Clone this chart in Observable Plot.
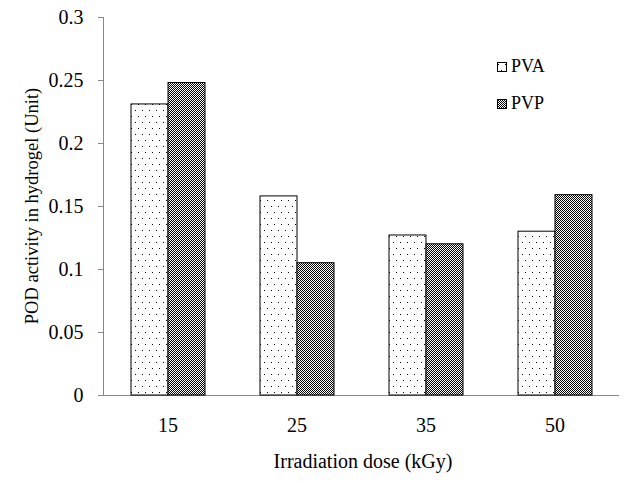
<!DOCTYPE html>
<html>
<head>
<meta charset="utf-8">
<script src="https://cdn.jsdelivr.net/npm/d3@7"></script>
<script src="https://cdn.jsdelivr.net/npm/@observablehq/plot@0.6"></script>
<style>
  html, body { margin: 0; padding: 0; background: white; }
  #wrap { position: relative; width: 632px; height: 483px; font-family: "Liberation Serif", "Times New Roman", serif; }
  .leg { position: absolute; left: 497px; font-size: 18px; display: flex; align-items: center; color: black; }
  .leg svg { margin-right: 4px; }
</style>
</head>
<body>
<div id="wrap"></div>
<script>
const doses = ["15", "25", "35", "50"];
const series = ["PVA", "PVP"];
const pvaValues = [0.231, 0.158, 0.127, 0.130];
const pvpValues = [0.248, 0.105, 0.120, 0.159];
const yTicks = [0, 0.05, 0.1, 0.15, 0.2, 0.25, 0.3];
const xTitle = "Irradiation dose (kGy)";
const yTitle = "POD activity in hydrogel (Unit)";

const data = doses.flatMap((d, i) => [
  {dose: d, s: "PVA", v: pvaValues[i]},
  {dose: d, s: "PVP", v: pvpValues[i]}
]);

const chart = Plot.plot({
  width: 632,
  height: 483,
  marginLeft: 102,
  marginRight: 12,
  marginTop: 17,
  marginBottom: 88,
  style: {fontFamily: "'Liberation Serif', 'Times New Roman', serif", fontSize: "20px", background: "white", color: "black"},
  fx: {domain: doses, padding: 0, label: null},
  x: {domain: series, paddingInner: 0, paddingOuter: 0.73, axis: null},
  y: {domain: [0, 0.3]},
  color: {domain: series, range: ["url(#pvaDots)", "url(#pvpCheck)"]},
  marks: [
    Plot.axisFx({anchor: "bottom", tickSize: 0, tickPadding: 22, label: null, fontSize: 20}),
    Plot.axisY({ticks: yTicks, tickSize: 5, tickPadding: 15, tickFormat: d => String(+d.toFixed(2)), label: null, stroke: "#888", fontSize: 20}),
    Plot.frame({anchor: "left", facetAnchor: "left", stroke: "#888"}),
    Plot.ruleY([0], {stroke: "#888"}),
    Plot.barY(data, {fx: "dose", x: "s", y: "v", fill: "s", stroke: "black", strokeWidth: 1})
  ]
});

const ns = "http://www.w3.org/2000/svg";
const defs = document.createElementNS(ns, "defs");
defs.innerHTML = `
  <pattern id="pvaDots" patternUnits="userSpaceOnUse" width="7" height="12">
    <rect width="7" height="12" fill="white"/>
    <rect x="1" y="2" width="1" height="1" fill="black"/>
    <rect x="4" y="8" width="1" height="1" fill="black"/>
  </pattern>
  <pattern id="pvpCheck" patternUnits="userSpaceOnUse" width="2" height="2">
    <rect width="2" height="2" fill="white"/>
    <rect x="0" y="0" width="1" height="1" fill="black"/>
    <rect x="1" y="1" width="1" height="1" fill="black"/>
  </pattern>`;
chart.insertBefore(defs, chart.firstChild);

// axis titles
const xt = document.createElementNS(ns, "text");
xt.setAttribute("x", 363);
xt.setAttribute("y", 468);
xt.setAttribute("text-anchor", "middle");
xt.setAttribute("font-size", 20);
xt.textContent = xTitle;
chart.appendChild(xt);

const yt = document.createElementNS(ns, "text");
yt.setAttribute("transform", "translate(38,206) rotate(-90)");
yt.setAttribute("text-anchor", "middle");
yt.setAttribute("font-size", 18.5);
yt.textContent = yTitle;
chart.appendChild(yt);

const wrap = document.getElementById("wrap");
wrap.appendChild(chart);

// legend
const legendTops = [56, 93];
series.forEach((s, i) => {
  const item = document.createElement("div");
  item.className = "leg";
  item.style.top = legendTops[i] + "px";
  const fillId = i === 0 ? "pvaDots" : "pvpCheck";
  item.innerHTML = `<svg width="10" height="10"><rect x="0.5" y="0.5" width="9" height="9" fill="url(#${fillId})" stroke="black"/></svg><span>${s}</span>`;
  wrap.appendChild(item);
});
</script>
</body>
</html>
